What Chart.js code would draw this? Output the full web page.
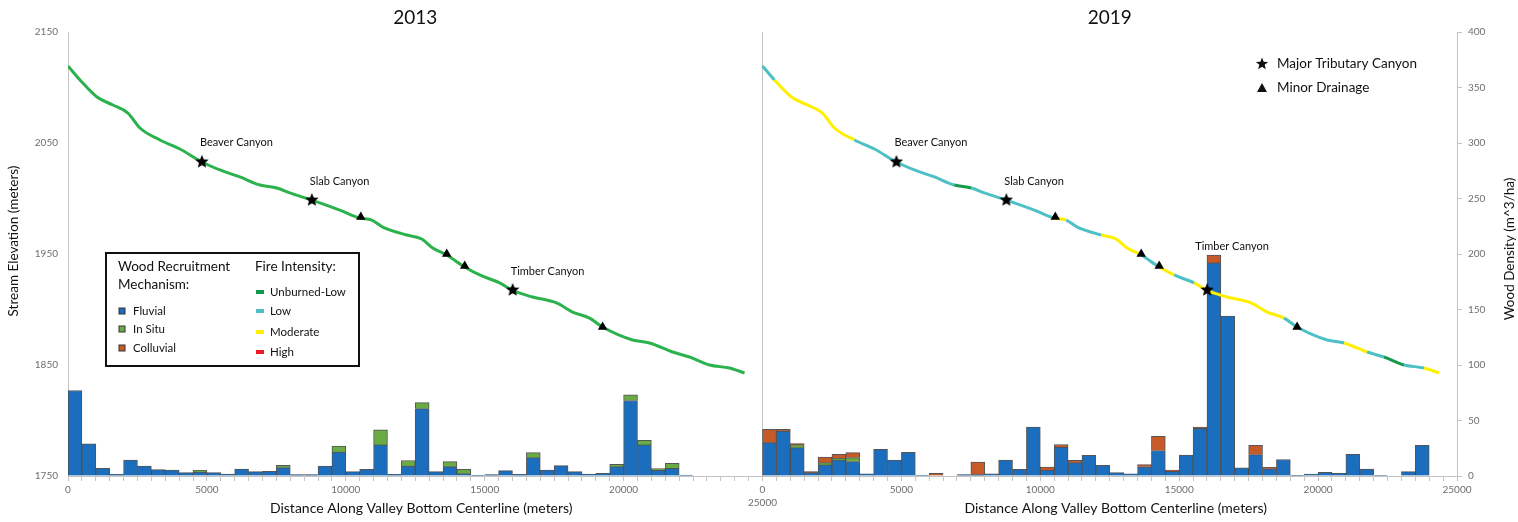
<!DOCTYPE html>
<html lang="en">
  <head>
    <meta charset="UTF-8" />
    <script src="https://cdn.jsdelivr.net/npm/chart.js"></script>
    <style>
      body {
        margin: 0;
        background: #fff;
      }
      #wrap {
        width: 1518px;
        height: 522px;
        position: relative;
      }
    </style>
  </head>
  <body>
    <div id="wrap"><canvas id="woodChart"></canvas></div>

    <script>
      // ---- data ----
      const panelTitles = ["2013", "2019"];
      const OFFSET = 25000; // second panel starts where the first one ends

      // 500 m bins (bin start, meters)
      const binStart = [
        0, 500, 1000, 1500, 2000, 2500, 3000, 3500, 4000, 4500, 5000, 5500,
        6000, 6500, 7000, 7500, 8000, 8500, 9000, 9500, 10000, 10500, 11000,
        11500, 12000, 12500, 13000, 13500, 14000, 14500, 15000, 15500, 16000,
        16500, 17000, 17500, 18000, 18500, 19000, 19500, 20000, 20500, 21000,
        21500, 22000, 22500, 23000, 23500, 24000,
      ];

      // wood density (m^3/ha) per bin
      const fluvial2013 = [
        77, 29, 7, 1.5, 14.4, 9, 5.7, 5.4, 3, 3.6, 3, 1.8, 6.3, 3.9, 4.2, 7.5,
        1.2, 1.2, 9, 21.6, 3.9, 6, 28, 1.5, 9, 60.7, 3.9, 8.4, 2.1, 0.3, 1.2,
        4.8, 1.5, 16.5, 5.4, 9.3, 3.9, 1.8, 2.4, 8.4, 68, 28, 5.1, 6.9, 0.9, 0,
        0, 0, 0,
      ];
      const inSitu2013 = [
        0, 0, 0, 0, 0, 0, 0, 0, 0, 1.5, 0, 0, 0, 0, 0, 2.1, 0, 0, 0, 5.4, 0, 0,
        13.5, 0, 5, 5.4, 0, 4.5, 3.9, 0, 0, 0, 0, 4.5, 0, 0, 0, 0, 0, 2.1, 5.1,
        4.2, 1.5, 4.5, 0, 0, 0, 0, 0,
      ];
      const colluvial2013 = [
        0, 0, 0, 0, 0, 0, 0, 0, 0, 0, 0, 0, 0, 0, 0, 0, 0, 0, 0, 0, 0, 0, 0, 0,
        0, 0, 0, 0, 0, 0, 0, 0, 0, 0, 0, 0, 0, 0, 0, 0, 0, 0, 0, 0, 0, 0, 0, 0,
        0,
      ];

      const fluvial2019 = [
        30, 40.5, 25.5, 3, 10, 14.4, 13, 2, 24, 14.4, 21.3, 0.9, 0, 0, 1.2, 1.2,
        2, 14.4, 6, 44, 5.4, 26, 12, 18.6, 9.6, 3, 2, 8.3, 23, 4.2, 18.8, 43,
        192, 144, 7.4, 19.3, 6.5, 14.9, 0.6, 1.8, 3.3, 2.4, 19.6, 6.2, 0.5, 0,
        3.9, 27.7, 0,
      ];
      const inSitu2019 = [
        0, 0, 2.7, 0, 2, 1.5, 3.6, 0, 0, 0, 0, 0, 0, 0, 0, 0, 0, 0, 0, 0, 0, 0,
        0, 0, 0, 0, 0, 0, 0, 0, 0, 0, 0, 0, 0, 0, 0, 0, 0, 0, 0, 0, 0, 0, 0, 0,
        0, 0, 0,
      ];
      const colluvial2019 = [
        12, 1.5, 0.9, 1, 5, 3.6, 4.5, 0, 0, 0, 0, 0, 2.4, 0, 0, 11.4, 0, 0, 0,
        0, 2.7, 2.4, 2.1, 0, 0, 0, 0, 2, 12.8, 1.2, 0, 1, 7, 0, 0, 8.3, 1.2, 0,
        0, 0, 0, 0, 0, 0, 0, 0, 0, 0, 0,
      ];

      // stream profile (distance m, elevation m)
      const profileDist = [
        0, 432, 1043, 1619, 2158, 2590, 3309, 4029, 4820, 5468, 6187, 6906,
        7518, 7986, 8777, 9784, 10503, 10935, 11331, 12194, 12734, 13129, 13633,
        14280, 14820, 15539, 16043, 16726, 17589, 18165, 18776, 19244, 20323,
        20935, 21762, 22374, 23093, 23813, 24353,
      ];
      const profileElev = [
        2119.4, 2106.8, 2091.4, 2084.2, 2077, 2063.5, 2052.7, 2044.6, 2032.9,
        2025.7, 2019.4, 2012.2, 2009.5, 2005, 1998.6, 1989.6, 1982.4, 1980.6,
        1974.3, 1967.1, 1963.5, 1955.4, 1949.1, 1938.3, 1931.1, 1923.9, 1916.7,
        1911.3, 1905.9, 1897.7, 1892.3, 1884.2, 1872.5, 1869.8, 1861.7, 1857.2,
        1850, 1847.3, 1842.8,
      ];

      // fire intensity along the 2019 profile (class starts at distance)
      const fireBreaks2019 = [
        0, 480, 3450, 6980, 7480, 10610, 11010, 12410, 13630, 14100, 14570,
        15500, 18520, 21010, 21980, 22520, 23020, 23490,
      ];
      const fireClass2019 = [
        "Low", "Moderate", "Low", "Unburned-Low", "Low", "Moderate", "Low",
        "Moderate", "Low", "Moderate", "Low", "Moderate", "Low", "Moderate",
        "Low", "Unburned-Low", "Low", "Moderate",
      ];

      const majorNames = ["Beaver Canyon", "Slab Canyon", "Timber Canyon"];
      const majorDist = [4820, 8777, 16007];
      const majorElev = [2033, 1998.6, 1917.6];
      const minorDist = [10540, 13633, 14281, 19244];
      const minorElev = [1983.3, 1950, 1939.2, 1884.2];

      // ---- styles ----
      const FONT = "Lato, 'Open Sans', sans-serif";
      const fireColors = {
        "Unburned-Low": "#14994a",
        Low: "#4dc0c5",
        Moderate: "#fff000",
        High: "#ed1c24",
      };
      const mechColors = {
        Fluvial: "#1b6ebd",
        "In Situ": "#6aab45",
        Colluvial: "#c65a28",
      };
      const line2013Color = "#2bb24c";
      const axisGray = "#c4c4c4";
      const tickGray = "#6e6e6e";

      Chart.defaults.font.family = FONT;

      function starPath(g, cx, cy, R, r) {
        g.beginPath();
        for (let i = 0; i < 10; i++) {
          const a = -Math.PI / 2 + (i * Math.PI) / 5;
          const rad = i % 2 ? r : R;
          g.lineTo(cx + rad * Math.cos(a), cy + rad * Math.sin(a));
        }
        g.closePath();
      }
      function makeStar(size) {
        const c = document.createElement("canvas");
        c.width = size;
        c.height = size;
        const g = c.getContext("2d");
        starPath(g, size / 2, size / 2, size / 2, size / 4.4);
        g.fillStyle = "#000";
        g.fill();
        return c;
      }
      const starImg = makeStar(14);

      function fireColor(d) {
        let k = 0;
        for (let i = 0; i < fireBreaks2019.length; i++) {
          if (d >= fireBreaks2019[i]) k = i;
        }
        return fireColors[fireClass2019[k]];
      }

      function barData(v2013, v2019) {
        const a = binStart.map((b, i) => ({ x: b + 250, y: v2013[i] }));
        const b = binStart.map((s, i) => ({ x: s + 250 + OFFSET, y: v2019[i] }));
        return a.concat(b);
      }
      function bothPanels(dist, elev) {
        const a = dist.map((d, i) => ({ x: d, y: elev[i] }));
        const b = dist.map((d, i) => ({ x: d + OFFSET, y: elev[i] }));
        return a.concat(b);
      }

      function barSet(label, v2013, v2019) {
        return {
          type: "bar",
          label: label,
          data: barData(v2013, v2019),
          yAxisID: "y2",
          stack: "wood",
          backgroundColor: mechColors[label],
          borderColor: "rgba(55,55,55,0.85)",
          borderWidth: 1,
          barPercentage: 1,
          categoryPercentage: 1,
          order: 3,
        };
      }

      function vText(ctx, text, x, y) {
        ctx.save();
        ctx.translate(x, y);
        ctx.rotate(-Math.PI / 2);
        ctx.fillText(text, 0, 0);
        ctx.restore();
      }

      // ---- extra drawing: titles, canyon names, legends ----
      const decor = {
        id: "decor",
        afterDraw(chart) {
          const { ctx, scales } = chart;
          const x = scales.x;
          ctx.save();
          ctx.fillStyle = "#111";
          ctx.textBaseline = "middle";

          // panel titles and x axis titles
          ctx.textAlign = "center";
          panelTitles.forEach((t, i) => {
            const cx = x.getPixelForValue(12500 + i * OFFSET);
            ctx.font = "19px " + FONT;
            ctx.fillText(t, cx, 18);
            ctx.font = "14px " + FONT;
            ctx.fillText(
              "Distance Along Valley Bottom Centerline (meters)",
              cx + 6,
              508
            );
          });

          // y axis titles
          ctx.font = "13.5px " + FONT;
          vText(ctx, "Stream Elevation (meters)", 14, 241);
          vText(ctx, "Wood Density (m^3/ha)", 1510, 249);

          // shared tick between the panels: start of 2019, end of 2013
          ctx.font = "10px " + FONT;
          ctx.fillStyle = tickGray;
          const sx = x.getPixelForValue(OFFSET);
          ctx.fillText("0", sx, 490);
          ctx.fillText(String(OFFSET), sx, 503);
          ctx.fillStyle = "#111";

          // canyon names next to the stars
          const barMetas = chart
            .getSortedVisibleDatasetMetas()
            .filter((m) => m.type === "bar");
          const starMeta = chart.getDatasetMeta(5);
          ctx.font = "11px " + FONT;
          ctx.textAlign = "left";
          starMeta.data.forEach((pt, i) => {
            const name = majorNames[i % majorNames.length];
            const w = ctx.measureText(name).width;
            let lx = pt.x - 2;
            let ly = pt.y - 19;
            let top = Infinity;
            barMetas.forEach((m) =>
              m.data.forEach((el) => {
                if (el.x + el.width / 2 > lx && el.x - el.width / 2 < lx + w)
                  top = Math.min(top, el.y);
              })
            );
            if (ly + 7 > top) {
              ly = top - 9;
              lx -= 10;
            }
            ctx.fillText(name, lx, ly);
          });

          // marker legend (top right)
          ctx.font = "13.5px " + FONT;
          starPath(ctx, 1262, 64, 6.5, 2.8);
          ctx.fill();
          ctx.fillText("Major Tributary Canyon", 1277, 64);
          ctx.beginPath();
          ctx.moveTo(1262, 83);
          ctx.lineTo(1267, 92);
          ctx.lineTo(1257, 92);
          ctx.closePath();
          ctx.fill();
          ctx.fillText("Minor Drainage", 1277, 88);

          // wood / fire legend box
          ctx.strokeStyle = "#111";
          ctx.lineWidth = 2;
          ctx.strokeRect(106, 253, 253, 113);
          ctx.font = "13.5px " + FONT;
          ctx.fillText("Wood Recruitment", 118, 267);
          ctx.fillText("Mechanism:", 118, 285);
          ctx.fillText("Fire Intensity:", 255, 267);
          ctx.font = "11.5px " + FONT;
          const mechY = [311, 329, 348];
          Object.keys(mechColors).forEach((k, i) => {
            ctx.fillStyle = mechColors[k];
            ctx.fillRect(119, mechY[i] - 3, 6, 6);
            ctx.lineWidth = 1;
            ctx.strokeStyle = "#333";
            ctx.strokeRect(119, mechY[i] - 3, 6, 6);
            ctx.fillStyle = "#111";
            ctx.fillText(k, 133, mechY[i]);
          });
          const fireY = [292, 311, 332, 352];
          Object.keys(fireColors).forEach((k, i) => {
            ctx.fillStyle = fireColors[k];
            ctx.fillRect(256, fireY[i] - 2, 8, 4);
            ctx.fillStyle = "#111";
            ctx.fillText(k, 270, fireY[i]);
          });
          ctx.restore();
        },
      };

      const ctx = document.getElementById("woodChart").getContext("2d");
      const woodChart = new Chart(ctx, {
        type: "bar",
        data: {
          datasets: [
            barSet("Fluvial", fluvial2013, fluvial2019),
            barSet("In Situ", inSitu2013, inSitu2019),
            barSet("Colluvial", colluvial2013, colluvial2019),
            {
              type: "line",
              label: "Stream profile 2013",
              data: profileDist.map((d, i) => ({ x: d, y: profileElev[i] })),
              yAxisID: "y",
              borderColor: line2013Color,
              borderWidth: 3,
              pointRadius: 0,
              cubicInterpolationMode: "monotone",
              order: 2,
            },
            {
              type: "line",
              label: "Stream profile 2019",
              data: profileDist.map((d, i) => ({
                x: d + OFFSET,
                y: profileElev[i],
              })),
              yAxisID: "y",
              borderColor: fireColors.Low,
              borderWidth: 3,
              pointRadius: 0,
              cubicInterpolationMode: "monotone",
              segment: {
                borderColor: (c) =>
                  fireColor((c.p0.parsed.x + c.p1.parsed.x) / 2 - OFFSET),
              },
              order: 2,
            },
            {
              type: "line",
              label: "Major Tributary Canyon",
              data: bothPanels(majorDist, majorElev),
              yAxisID: "y",
              showLine: false,
              pointStyle: starImg,
              pointRadius: 7,
              order: 1,
            },
            {
              type: "line",
              label: "Minor Drainage",
              data: bothPanels(minorDist, minorElev),
              yAxisID: "y",
              showLine: false,
              pointStyle: "triangle",
              pointRadius: 5.5,
              backgroundColor: "#000",
              borderColor: "#000",
              borderWidth: 0,
              order: 1,
            },
          ],
        },
        options: {
          responsive: true,
          maintainAspectRatio: false,
          animation: false,
          layout: { padding: { top: 32, left: 0, right: 0, bottom: 0 } },
          plugins: {
            legend: { display: false },
            tooltip: { enabled: false },
          },
          scales: {
            x: {
              type: "linear",
              offset: false,
              min: 0,
              max: 2 * OFFSET,
              afterFit: (s) => {
                s.height = 46;
              },
              border: { color: axisGray, width: 1 },
              grid: {
                offset: false,
                color: (c) =>
                  c.tick && c.tick.value === OFFSET ? axisGray : "rgba(0,0,0,0)",
                tickColor: axisGray,
                tickLength: 5,
              },
              ticks: {
                stepSize: 500,
                autoSkip: false,
                maxRotation: 0,
                padding: 3,
                color: tickGray,
                font: { size: 10 },
                callback: (v) => {
                  if (v % 5000 !== 0 || v === OFFSET) return "";
                  return String(v > OFFSET ? v - OFFSET : v);
                },
              },
            },
            y: {
              position: "left",
              min: 1750,
              max: 2150,
              afterFit: (s) => {
                s.width = 68;
              },
              border: { color: axisGray, width: 1 },
              grid: { drawOnChartArea: false, drawTicks: false },
              ticks: {
                stepSize: 100,
                padding: 10,
                color: tickGray,
                font: { size: 10 },
                callback: (v) => String(v),
              },
            },
            y2: {
              position: "right",
              min: 0,
              max: 400,
              afterFit: (s) => {
                s.width = 61;
              },
              border: { color: axisGray, width: 1 },
              grid: {
                drawOnChartArea: false,
                tickColor: axisGray,
                tickLength: 5,
              },
              ticks: {
                stepSize: 50,
                padding: 6,
                color: tickGray,
                font: { size: 10 },
              },
            },
          },
        },
        plugins: [decor],
      });
    </script>
  </body>
</html>
